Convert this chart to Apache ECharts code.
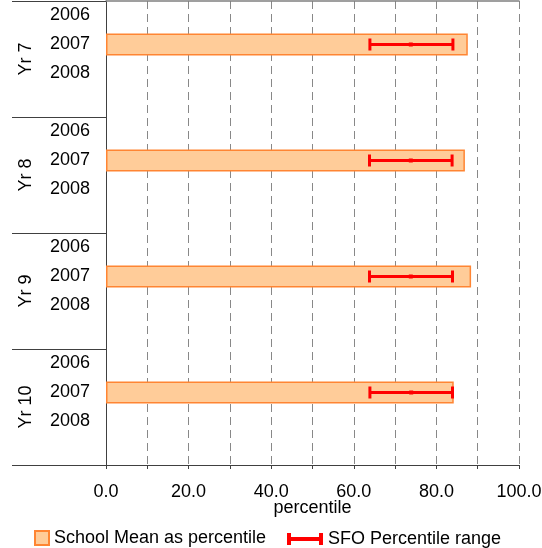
<!DOCTYPE html>
<html>
<head>
<meta charset="utf-8">
<script src="https://cdn.jsdelivr.net/npm/echarts@6/dist/echarts.min.js"></script>
<style>html,body{margin:0;padding:0;background:#fff;overflow:hidden}#c{width:542px;height:548px}</style>
</head>
<body>
<div id="c"></div>
<script>
var groups = ['Yr 7', 'Yr 8', 'Yr 9', 'Yr 10'];
var years = ['2006', '2007', '2008', ''];
var schoolMean = [87.6, 86.9, 88.4, 84.2];      // 2007 values per group
var sfoLow = [63.9, 63.8, 63.8, 63.9];
var sfoMid = [73.8, 73.8, 73.8, 73.9];
var sfoHigh = [84.0, 83.8, 83.9, 83.9];
var xTicks = [0, 20, 40, 60, 80, 100];

var cats = [];
groups.forEach(function (g) { years.forEach(function (y) { cats.push(g + '|' + y); }); });
var barData = cats.map(function () { return '-'; });
var errData = [];
groups.forEach(function (g, i) {
  var idx = i * years.length + years.indexOf('2007');
  barData[idx] = schoolMean[i];
  errData.push([idx, sfoLow[i], sfoMid[i], sfoHigh[i]]);
});

var FONT = 'Liberation Sans, Arial, sans-serif';
var chart = echarts.init(document.getElementById('c'));
chart.setOption({
  animation: false,
  textStyle: { fontFamily: FONT },
  grid: { left: 106, right: 23, top: 1, bottom: 83, containLabel: false, outerBoundsMode: 'none' },
  xAxis: [{
    type: 'value', min: 0, max: 100, interval: 10, position: 'bottom',
    name: 'percentile', nameLocation: 'middle', nameGap: 34, nameMoveOverlap: false,
    nameTextStyle: { fontSize: 18, color: '#000', fontFamily: FONT },
    axisLine: { show: true, lineStyle: { color: '#404040', width: 1 } },
    axisTick: { show: true, length: 4, lineStyle: { color: '#404040' } },
    axisLabel: {
      fontSize: 18, color: '#000', margin: 18, fontFamily: FONT, showMaxLabel: true,
      formatter: function (v) { return xTicks.indexOf(v) >= 0 ? v.toFixed(1) : ''; }
    },
    splitLine: { show: true, lineStyle: { color: '#888', type: [8, 5], width: 1 } }
  }, {
    type: 'value', min: 0, max: 100, position: 'top',
    axisLine: { show: true, onZero: false, lineStyle: { color: '#808080', width: 1.5 } },
    axisTick: { show: false }, axisLabel: { show: false }, splitLine: { show: false }
  }],
  yAxis: [{
    type: 'category', data: cats, inverse: true, position: 'left',
    axisLine: { show: true, lineStyle: { color: '#404040', width: 1 } },
    axisTick: { show: false },
    axisLabel: {
      fontSize: 18, color: '#000', margin: 16, fontFamily: FONT, interval: 0,
      formatter: function (v) { return v.split('|')[1]; }
    }
  }, {
    type: 'category', data: groups, inverse: true, position: 'left',
    axisLine: { show: false },
    axisTick: { show: true, length: 94, lineStyle: { color: '#404040', width: 1 } },
    axisLabel: { fontSize: 18, color: '#000', rotate: 90, margin: 71, fontFamily: FONT, interval: 0 }
  }],
  legend: [{
    left: 34, top: 529, padding: 0, itemWidth: 14, itemHeight: 14,
    textStyle: { fontSize: 18, color: '#000', fontFamily: FONT },
    data: [{ name: 'School Mean as percentile', icon: 'rect' }]
  }, {
    left: 287, top: 530, padding: 0, itemWidth: 36, itemHeight: 12,
    textStyle: { fontSize: 18, color: '#000', fontFamily: FONT },
    data: [{ name: 'SFO Percentile range', icon: 'path://M0,0h4v12h-4z M4,4h28v4h-28z M32,0h4v12h-4z', itemStyle: { color: '#FF0000' } }]
  }],
  series: [{
    name: 'School Mean as percentile', type: 'bar', data: barData, barWidth: 22,
    xAxisIndex: 0, yAxisIndex: 0,
    itemStyle: { color: '#FFCC99', borderColor: '#FF8533', borderWidth: 1.5 }
  }, {
    name: 'SFO Percentile range', type: 'custom', data: errData,
    xAxisIndex: 0, yAxisIndex: 0,
    encode: { x: [1, 2, 3], y: 0 },
    itemStyle: { color: '#FF0000' },
    z: 5,
    renderItem: function (params, api) {
      var y = api.value(0);
      var lo = api.coord([api.value(1), y]);
      var mid = api.coord([api.value(2), y]);
      var hi = api.coord([api.value(3), y]);
      var h = 12;
      var st = { stroke: '#FF0000', lineWidth: 3 };
      return {
        type: 'group', children: [
          { type: 'line', shape: { x1: lo[0], y1: lo[1], x2: hi[0], y2: hi[1] }, style: st },
          { type: 'line', shape: { x1: lo[0], y1: lo[1] - h / 2, x2: lo[0], y2: lo[1] + h / 2 }, style: st },
          { type: 'line', shape: { x1: hi[0], y1: hi[1] - h / 2, x2: hi[0], y2: hi[1] + h / 2 }, style: st },
          { type: 'rect', shape: { x: mid[0] - 2, y: mid[1] - 2, width: 4, height: 4 }, style: { fill: '#FF0000' } }
        ]
      };
    }
  }]
});
</script>
</body>
</html>
